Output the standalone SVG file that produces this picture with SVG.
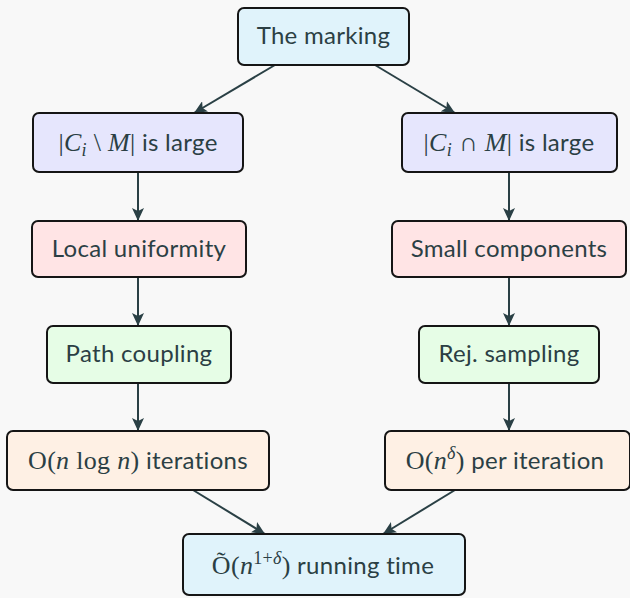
<svg xmlns="http://www.w3.org/2000/svg" width="630" height="598" viewBox="0 0 630 598">
<style>
.bg{fill:#f8f8f8}
.box{stroke:#151515;stroke-width:2}
.t{font-family:Lato,"Open Sans",sans-serif;font-size:24px;fill:#2b3f44;text-anchor:middle;letter-spacing:0.3px}
.m{font-family:"Liberation Serif",serif;font-style:italic;font-size:26px}
.r{font-family:"Liberation Serif",serif;font-size:26px}
.sup{font-size:18px}
.blue{fill:#e0f3fb}
.lav{fill:#e6e6fd}
.pink{fill:#ffe4e5}
.green{fill:#e6fde6}
.peach{fill:#fef0e4}
.c{stroke:#2a4045;stroke-width:2;fill:none;marker-end:url(#ah)}
</style>
<defs>
<marker id="ah" markerUnits="userSpaceOnUse" markerWidth="14" markerHeight="12" refX="13" refY="6" orient="auto">
<path d="M0,0 L13,6 L0,12 L3,6 z" fill="#2a4045"/>
</marker>
</defs>
<rect class="bg" x="0" y="0" width="630" height="598"/>
<g id="connectors">
<line class="c" x1="275" y1="65" x2="194" y2="113"/>
<line class="c" x1="375" y1="65" x2="455" y2="113"/>
<line class="c" x1="138" y1="172" x2="138" y2="221"/>
<line class="c" x1="138" y1="277" x2="138" y2="326"/>
<line class="c" x1="138" y1="383" x2="138" y2="431"/>
<line class="c" x1="509" y1="172" x2="509" y2="221"/>
<line class="c" x1="509" y1="277" x2="509" y2="326"/>
<line class="c" x1="509" y1="383" x2="509" y2="431"/>
<line class="c" x1="193" y1="490" x2="265" y2="534"/>
<line class="c" x1="455" y1="490" x2="383" y2="534"/>
</g>
<g id="marking">
<rect class="box blue" x="238" y="8" width="171" height="57" rx="6"/>
<text class="t" x="323.5" y="44">The marking</text>
</g>
<g id="diff">
<rect class="box lav" x="33" y="113" width="210" height="59" rx="6"/>
<text class="t" x="138" y="151"><tspan class="r">|</tspan><tspan class="m">C</tspan><tspan class="m sup" dy="5">i</tspan><tspan class="r" dy="-5"> \ </tspan><tspan class="m">M</tspan><tspan class="r">|</tspan> is large</text>
</g>
<g id="inter">
<rect class="box lav" x="402" y="113" width="215" height="59" rx="6"/>
<text class="t" x="509" y="151"><tspan class="r">|</tspan><tspan class="m">C</tspan><tspan class="m sup" dy="5">i</tspan><tspan class="r" dy="-5"> ∩ </tspan><tspan class="m">M</tspan><tspan class="r">|</tspan> is large</text>
</g>
<g id="local">
<rect class="box pink" x="32" y="221" width="214" height="56" rx="6"/>
<text class="t" x="139" y="257">Local uniformity</text>
</g>
<g id="small">
<rect class="box pink" x="392" y="221" width="234" height="56" rx="6"/>
<text class="t" x="509" y="257">Small components</text>
</g>
<g id="path">
<rect class="box green" x="47" y="326" width="184" height="57" rx="6"/>
<text class="t" x="139" y="362">Path coupling</text>
</g>
<g id="rej">
<rect class="box green" x="419" y="326" width="180" height="57" rx="6"/>
<text class="t" x="509" y="362">Rej. sampling</text>
</g>
<g id="iters">
<rect class="box peach" x="7" y="431" width="262" height="59" rx="6"/>
<text class="t" x="138" y="469"><tspan class="r">O(</tspan><tspan class="m">n</tspan><tspan class="r"> log </tspan><tspan class="m">n</tspan><tspan class="r">)</tspan> iterations</text>
</g>
<g id="per">
<rect class="box peach" x="385" y="431" width="245" height="59" rx="6"/>
<text class="t" x="505" y="469"><tspan class="r">O(</tspan><tspan class="m">n</tspan><tspan class="m sup" dy="-10">δ</tspan><tspan class="r" dy="10">)</tspan> per iteration</text>
</g>
<g id="total">
<rect class="box blue" x="183" y="534" width="282" height="61" rx="6"/>
<text class="t" x="323" y="574"><tspan class="r">Õ(</tspan><tspan class="m">n</tspan><tspan class="r sup" dy="-10">1+</tspan><tspan class="m sup">δ</tspan><tspan class="r" dy="10">)</tspan> running time</text>
</g>
</svg>
